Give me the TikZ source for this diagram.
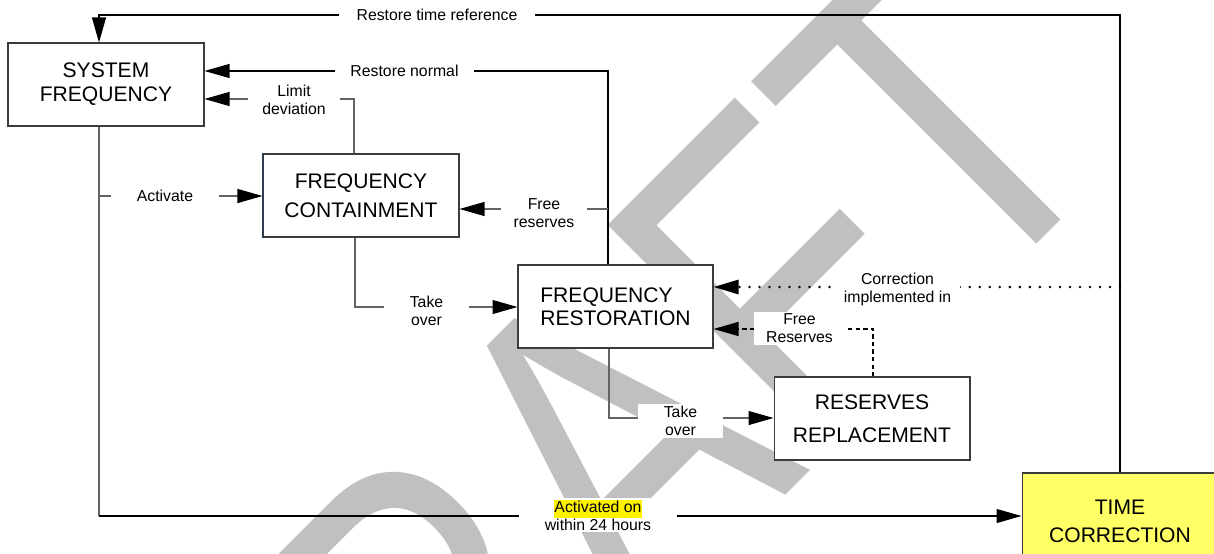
\documentclass[tikz,border=0pt]{standalone}
\usepackage{fontspec}
\setmainfont{Liberation Sans}
\usetikzlibrary{arrows.meta}
\definecolor{cadreC}{RGB}{60,60,60}
\definecolor{grisC}{RGB}{100,100,100}
\definecolor{jauneC}{RGB}{255,255,102}
\definecolor{marqueC}{RGB}{192,192,192}
\definecolor{navyC}{RGB}{31,56,100}
\tikzset{
  bloc/.style={rectangle, draw=cadreC, line width=0.6pt, fill=#1, align=center,
               font=\fontsize{12}{14}\selectfont, minimum width=3.92cm, minimum height=1.66cm, inner sep=1pt},
  etiq/.style={rectangle, fill=white, inner xsep=0pt, inner ysep=1pt, align=center,
               font=\fontsize{9}{10.2}\selectfont},
  fil/.style={line width=0.6pt, draw=#1},
  fleche/.style={-{Triangle[length=5mm, width=2.8mm, color=black]}, line width=0.6pt, draw=#1},
  pointille/.style={line width=1.6pt, line cap=round, dash pattern=on 0pt off 5.7pt},
  tirets/.style={dash pattern=on 2.5pt off 1.8pt},
  marque/.style={anchor=base west, inner sep=0pt, text=marqueC, transform shape,
                 font=\fontsize{209.5}{210}\selectfont},
}

\begin{document}
\begin{tikzpicture}[x=0.02cm, y=-0.02cm]
  \clip (0,0) rectangle (1214,554);
  \begin{scope}[shift={(261,1020)}, rotate=45, yscale=1.25]
    \node[marque] (filigrane) at (0,0) {DRAFT};
  \end{scope}

  \node[bloc=white] (sf) at (106,84.5) {SYSTEM\\[-0.3pt]FREQUENCY};
  \node[bloc=white] (cont) at (361,195.5) {FREQUENCY\\[2.5pt]CONTAINMENT};
  \node[bloc=white, align=left, minimum width=3.9cm] (rest) at (615.5,306.5) {FREQUENCY\\[-1.1pt]RESTORATION};
  \node[bloc=white] (repl) at (872,418.5) {RESERVES\\[4.6pt]REPLACEMENT};
  \node[bloc=jauneC, minimum height=1.92cm] (tc) at (1120,521) {TIME\\[2pt]CORRECTION};
  \draw[navyC, line width=0.8pt] (cont.north west) -- (cont.south west);

  \coordinate (cHaut) at (99,15);
  \coordinate (cNormal) at (608,71);
  \coordinate (cLimite) at (354,99);
  \coordinate (cActiv) at (99,196);
  \coordinate (cBas) at (99,516);
  \coordinate (cLibre) at (608,209);
  \coordinate (cRelais1) at (355,307);
  \coordinate (cRelais2) at (609,418);
  \coordinate (cCorr) at (1120,287);
  \coordinate (cLibre2) at (873,329);

  \draw[fleche=black] (tc.north) |- (cHaut) -- (cHaut |- sf.north);
  \draw[fleche=black] (cNormal |- rest.north) -- (cNormal) -- (cNormal -| sf.east);
  \draw[fleche=grisC] (cLimite |- cont.north) -- (cLimite) -- (cLimite -| sf.east);
  \draw[fil=grisC] (cBas |- sf.south) -- (cBas);
  \draw[fleche=black] (cBas) -- (cBas -| tc.west);
  \draw[fleche=grisC] (cActiv) -- (cActiv -| cont.west);
  \draw[fleche=grisC] (cLibre) -- (cLibre -| cont.east);
  \draw[fleche=grisC] (cRelais1 |- cont.south) -- (cRelais1) -- (cRelais1 -| rest.west);
  \draw[fleche=grisC] (cRelais2 |- rest.south) -- (cRelais2) -- (cRelais2 -| repl.west);
  \draw[fleche=black, pointille] (cCorr) -- (cCorr -| rest.east);
  \draw[fleche=black, tirets] (cLibre2 |- repl.north) -- (cLibre2) -- (cLibre2 -| rest.east);

  \node[etiq, minimum width=3.92cm] (lTemps) at (437,15) {Restore time reference};
  \node[etiq, minimum width=2.78cm] (lNormal) at (404.5,71) {Restore normal};
  \node[etiq, minimum width=1.84cm] (lLimite) at (294,100) {Limit\\deviation};
  \node[etiq, minimum width=2.16cm] (lActiv) at (165,196) {Activate};
  \node[etiq, minimum width=1.72cm] (lLibre) at (544,213) {Free\\reserves};
  \node[etiq, minimum width=1.7cm] (lRelais1) at (426.5,311) {Take\\over};
  \node[etiq, minimum width=1.7cm] (lRelais2) at (680.5,421) {Take\\over};
  \node[etiq, minimum width=2.5cm] (lCorr) at (897.5,289) {Correction\\implemented in};
  \node[etiq, minimum width=1.82cm] (lLibre2) at (799.5,328.5) {Free\\Reserves};
  \node[etiq, minimum width=3.16cm] (lActive) at (598,515)
    {{\setlength{\fboxsep}{0pt}\colorbox{yellow}{\strut Activated on}}\\within 24 hours};
\end{tikzpicture}
\end{document}
